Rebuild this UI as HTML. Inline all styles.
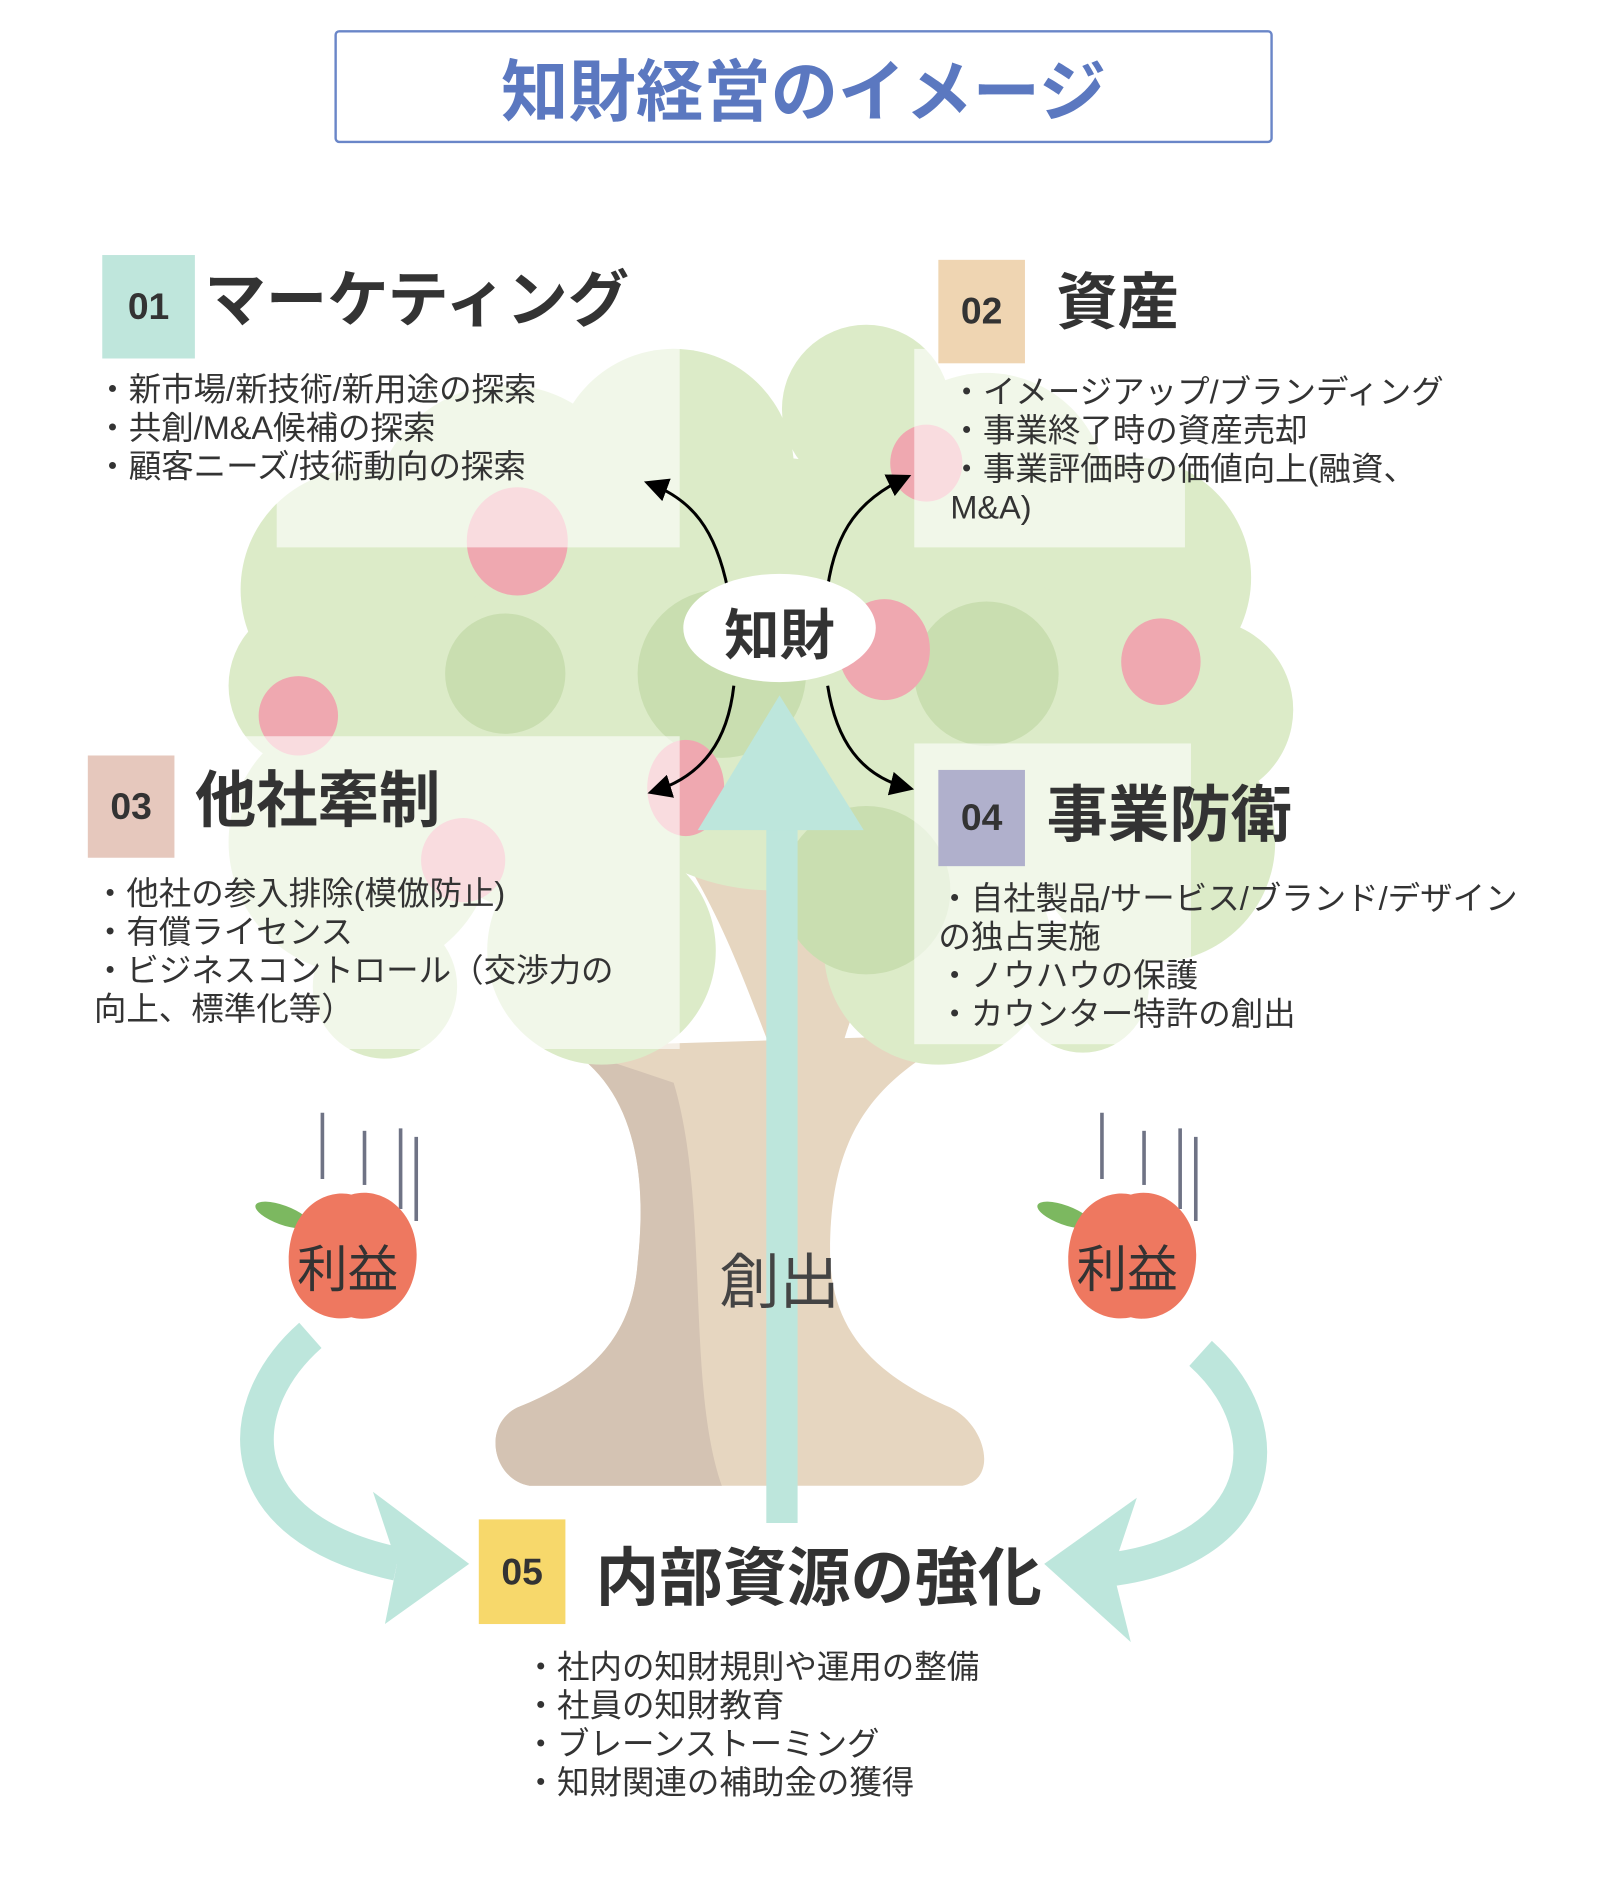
<!DOCTYPE html>
<html><head><meta charset="utf-8"><style>
html,body{margin:0;padding:0;background:#fff;width:1600px;height:1900px;overflow:hidden}
#w{position:absolute;left:0;top:0;width:1330px;height:1580px;transform:scale(1.203);transform-origin:0 0;font-family:"Liberation Sans","Noto Sans CJK JP",sans-serif;color:#333}
.a{position:absolute}
.sq{position:absolute;font-weight:bold;font-size:31px;color:#333;display:flex;align-items:center;justify-content:center}
.h{position:absolute;font-weight:bold;font-size:51px;color:#333;white-space:nowrap;line-height:1}
.b{position:absolute;font-size:27px;line-height:32px;color:#333;white-space:nowrap}
.p{position:absolute;background:rgba(255,255,255,0.6)}
</style></head><body><div id="w">
<svg class="a" style="left:0;top:0" width="1330" height="1580" viewBox="0 0 1330 1580">
<path d="M470 870 C520 900 540 960 530 1050 C525 1120 480 1150 430 1170 C400 1185 410 1230 440 1235 L800 1235 C830 1230 820 1185 790 1170 C720 1140 690 1100 690 1040 C690 950 720 900 800 860 Z" fill="#e6d6c0"/>
<path d="M470 870 C520 900 540 960 530 1050 C525 1120 480 1150 430 1170 C400 1185 410 1230 440 1235 L600 1235 C570 1150 590 1000 560 900 Z" fill="#d4c3b3"/>
<path d="M560 700 C600 760 620 820 640 870 L700 870 C720 800 760 740 800 700 Z" fill="#e6d6c0"/>
<g fill="#dcebc8">
<circle cx="300" cy="490" r="100"/><circle cx="260" cy="570" r="70"/><circle cx="300" cy="700" r="110"/><circle cx="320" cy="820" r="60"/>
<circle cx="420" cy="430" r="110"/><circle cx="560" cy="390" r="100"/><circle cx="720" cy="340" r="70"/><circle cx="820" cy="410" r="100"/>
<circle cx="940" cy="480" r="100"/><circle cx="1000" cy="590" r="75"/><circle cx="960" cy="700" r="100"/><circle cx="900" cy="820" r="55"/>
<circle cx="640" cy="560" r="180"/><circle cx="460" cy="620" r="140"/><circle cx="820" cy="620" r="140"/><circle cx="500" cy="790" r="95"/><circle cx="780" cy="790" r="95"/>
</g>
<g fill="#c9deb0"><circle cx="600" cy="560" r="70"/><circle cx="820" cy="560" r="60"/><circle cx="420" cy="560" r="50"/><circle cx="720" cy="740" r="70"/></g>
<g fill="#efa8b0"><ellipse cx="430" cy="450" rx="42" ry="45"/><ellipse cx="735" cy="540" rx="38" ry="42"/><ellipse cx="965" cy="550" rx="33" ry="36"/><ellipse cx="248" cy="595" rx="33" ry="33"/><ellipse cx="570" cy="655" rx="32" ry="40"/><ellipse cx="770" cy="385" rx="30" ry="32"/><ellipse cx="385" cy="715" rx="35" ry="35"/></g>
</svg>
<div class="p" style="left:230px;top:290px;width:335px;height:165px"></div>
<div class="p" style="left:760px;top:290px;width:225px;height:165px"></div>
<div class="p" style="left:150px;top:612px;width:415px;height:260px"></div>
<div class="p" style="left:760px;top:618px;width:230px;height:250px"></div>
<svg class="a" style="left:0;top:0" width="1330" height="1580" viewBox="0 0 1330 1580">
<defs><marker id="m" markerWidth="8" markerHeight="8" refX="6" refY="4" orient="auto"><path d="M0 0 L8 4 L0 8 Z" fill="#000"/></marker></defs>
<g stroke="#000" stroke-width="2.5" fill="none" marker-end="url(#m)">
<path d="M605 490 C595 440 575 415 540 402"/>
<path d="M688 488 C695 440 715 415 753 397"/>
<path d="M610 570 C605 615 585 645 543 658"/>
<path d="M688 570 C695 615 715 645 755 655"/>
</g>
<ellipse cx="648" cy="522" rx="80" ry="45" fill="#fff"/>
<rect x="637" y="688" width="26" height="578" fill="#bde6dc"/>
<polygon points="648,578 580,690 718,690" fill="#bde6dc"/>
<path d="M258 1110 C190 1170 190 1270 330 1300" stroke="#bde6dc" stroke-width="28" fill="none"/>
<polygon points="310,1240 390,1300 320,1350 330,1300" fill="#bde6dc"/>
<path d="M998 1125 C1070 1190 1050 1290 920 1305" stroke="#bde6dc" stroke-width="28" fill="none"/>
<polygon points="945,1245 868,1300 940,1365 925,1305" fill="#bde6dc"/>
<g stroke="#6f7385" stroke-width="3"><line x1="268" y1="925" x2="268" y2="980"/><line x1="303" y1="940" x2="303" y2="985"/><line x1="333" y1="938" x2="333" y2="1005"/><line x1="346" y1="945" x2="346" y2="1015"/>
<line x1="916" y1="925" x2="916" y2="980"/><line x1="951" y1="940" x2="951" y2="985"/><line x1="981" y1="938" x2="981" y2="1005"/><line x1="994" y1="945" x2="994" y2="1015"/></g>
<ellipse cx="235" cy="1010" rx="24" ry="8" fill="#7cb860" transform="rotate(20 235 1010)"/>
<ellipse cx="885" cy="1010" rx="24" ry="8" fill="#7cb860" transform="rotate(20 885 1010)"/>
<path d="M292 993 C320 985 350 1010 346 1050 C342 1090 310 1100 292 1095 C270 1100 240 1085 240 1048 C240 1005 270 988 292 993Z" fill="#ee7860"/>
<path d="M940 993 C968 985 998 1010 994 1050 C990 1090 958 1100 940 1095 C918 1100 888 1085 888 1048 C888 1005 918 988 940 993Z" fill="#ee7860"/>
</svg>
<div class="a" style="left:278px;top:25px;width:776px;height:90px;border:2px solid #6a86c8;border-radius:4px;display:flex;align-items:center;justify-content:center;font-weight:bold;font-size:56px;color:#5b78c0">知財経営のイメージ</div>
<div class="sq" style="left:85px;top:212px;width:77px;height:86px;background:#bfe6dc">01</div>
<div class="h" style="left:170px;top:224px">マーケティング</div>
<div class="b" style="left:80px;top:308px">・新市場/新技術/新用途の探索<br>・共創/M&amp;A候補の探索<br>・顧客ニーズ/技術動向の探索</div>
<div class="sq" style="left:780px;top:216px;width:72px;height:86px;background:#efd5b2">02</div>
<div class="h" style="left:878px;top:226px">資産</div>
<div class="b" style="left:790px;top:310px">・イメージアップ/ブランディング<br>・事業終了時の資産売却<br>・事業評価時の価値向上(融資、<br>M&amp;A)</div>
<div class="a" style="left:568px;top:492px;width:160px;text-align:center;font-weight:bold;font-size:46px">知財</div>
<div class="sq" style="left:73px;top:628px;width:72px;height:85px;background:#e6c8bd">03</div>
<div class="h" style="left:162px;top:640px">他社牽制</div>
<div class="b" style="left:78px;top:727px">・他社の参入排除(模倣防止)<br>・有償ライセンス<br>・ビジネスコントロール（交渉力の<br>向上、標準化等）</div>
<div class="sq" style="left:780px;top:640px;width:72px;height:80px;background:#b0b0cc">04</div>
<div class="h" style="left:870px;top:652px">事業防衛</div>
<div class="b" style="left:780px;top:731px">・自社製品/サービス/ブランド/デザイン<br>の独占実施<br>・ノウハウの保護<br>・カウンター特許の創出</div>
<div class="a" style="left:598px;top:1026px;font-size:50px;color:#444">創出</div>
<div class="a" style="left:247px;top:1022px;font-size:42px;color:#333">利益</div>
<div class="a" style="left:895px;top:1022px;font-size:42px;color:#333">利益</div>
<div class="sq" style="left:398px;top:1263px;width:72px;height:87px;background:#f7d86b">05</div>
<div class="h" style="left:495px;top:1286px;font-size:53px">内部資源の強化</div>
<div class="b" style="left:436px;top:1370px">・社内の知財規則や運用の整備<br>・社員の知財教育<br>・ブレーンストーミング<br>・知財関連の補助金の獲得</div>
</div></body></html>
